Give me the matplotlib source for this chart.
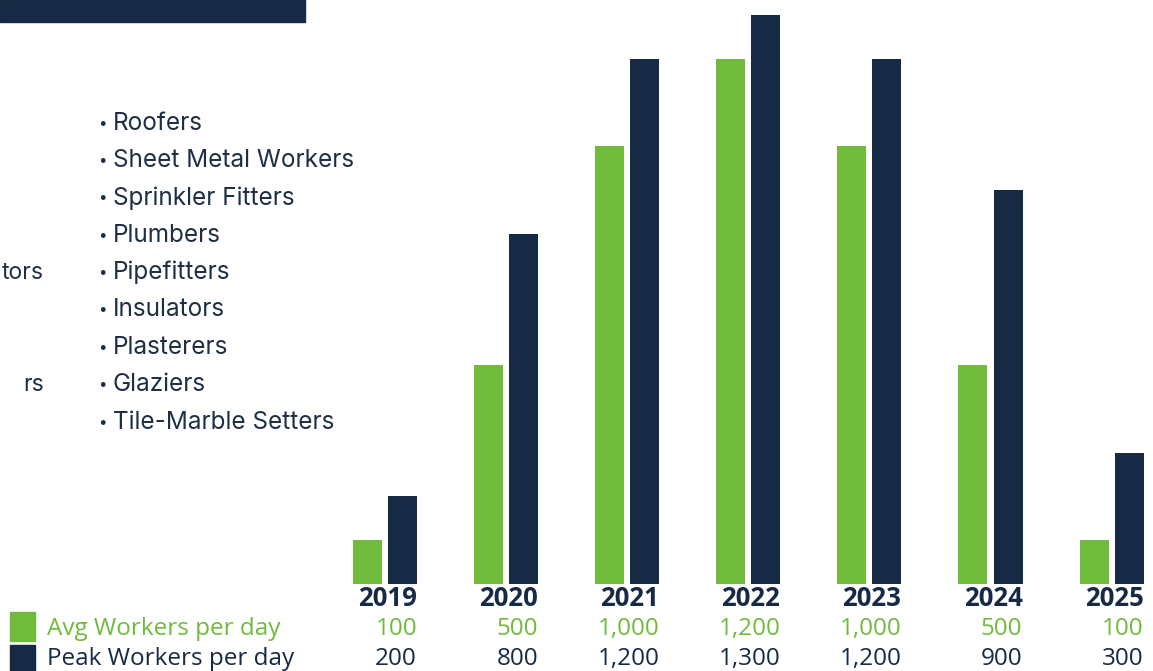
import matplotlib
matplotlib.use("Agg")
import matplotlib.pyplot as plt
from matplotlib.transforms import blended_transform_factory
import matplotlib.patches as mpatches

years = ["2019", "2020", "2021", "2022", "2023", "2024", "2025"]
avg_workers = [100, 500, 1000, 1200, 1000, 500, 100]
peak_workers = [200, 800, 1200, 1300, 1200, 900, 300]
trades = ["Roofers", "Sheet Metal Workers", "Sprinkler Fitters", "Plumbers",
          "Pipefitters", "Insulators", "Plasterers", "Glaziers",
          "Tile-Marble Setters"]
cut_trades = [("tors", 4), ("rs", 7)]  # partial words from a cropped column, row index

green = "#70bb3b"
navy = "#172a45"
text_c = "#1e2f45"

W, H = 1153, 671
fig = plt.figure(figsize=(W / 100, H / 100), dpi=100)

# bar axes: covers the figure width, baseline at y=584 px from top
base = (H - 584) / H
ax = fig.add_axes([0, base, 1, 1 - base])
step = 121.1
x0 = 385
ax.set_xlim(-x0 / step, (W - x0) / step)
ax.set_ylim(0, 584 / 0.4377)
ax.axis("off")

bw = 29 / step
off = 17.5 / step
xs = list(range(len(years)))
ax.bar([x - off for x in xs], avg_workers, width=bw, color=green)
ax.bar([x + off for x in xs], peak_workers, width=bw, color=navy)

# table under the bars
tr = blended_transform_factory(ax.transData, fig.transFigure)
right = 32 / step
num_font = ["Open Sans", "DejaVu Sans"]
for i, y in enumerate(years):
    ax.text(i + right, (H - 598) / H, y, transform=tr, ha="right", va="center",
            fontsize=18.5, fontweight="bold", color=navy, family=num_font)
    ax.text(i + right, (H - 629) / H, f"{avg_workers[i]:,}", transform=tr,
            ha="right", va="center", fontsize=17.5, color=green, family=num_font)
    ax.text(i + right, (H - 659) / H, f"{peak_workers[i]:,}", transform=tr,
            ha="right", va="center", fontsize=17.5, color=navy, family=num_font)

# legend squares and labels
fig.patches.append(mpatches.Rectangle((10 / W, (H - 641) / H), 25 / W, 29 / H,
                                      transform=fig.transFigure, color=green))
fig.patches.append(mpatches.Rectangle((10 / W, 0), 25 / W, (H - 645) / H,
                                      transform=fig.transFigure, color=navy))
fig.text(47 / W, (H - 629) / H, "Avg Workers per day", ha="left", va="center",
         fontsize=17.5, color=green, family=num_font)
fig.text(47 / W, (H - 659) / H, "Peak Workers per day", ha="left", va="center",
         fontsize=17.5, color=navy, family=num_font)

# dark banner at top left
fig.patches.append(mpatches.Rectangle((0, (H - 22) / H), 305 / W, 22 / H,
                                      transform=fig.transFigure, color=navy))

# bullet list of trades
list_font = ["Inter", "DejaVu Sans"]
for k, t in enumerate(trades):
    yy = (H - (123 + 37.4 * k)) / H
    fig.text(102 / W, yy, "•", ha="center", va="center",
             fontsize=11, color=text_c, family=list_font)
    fig.text(113 / W, yy, t, ha="left", va="center",
             fontsize=17.5, color=text_c, family=list_font)
for t, k in cut_trades:
    fig.text(44 / W, (H - (123 + 37.4 * k)) / H, t, ha="right", va="center",
             fontsize=16.5, color=text_c, family=list_font)

fig.savefig("out.png", dpi=100)
